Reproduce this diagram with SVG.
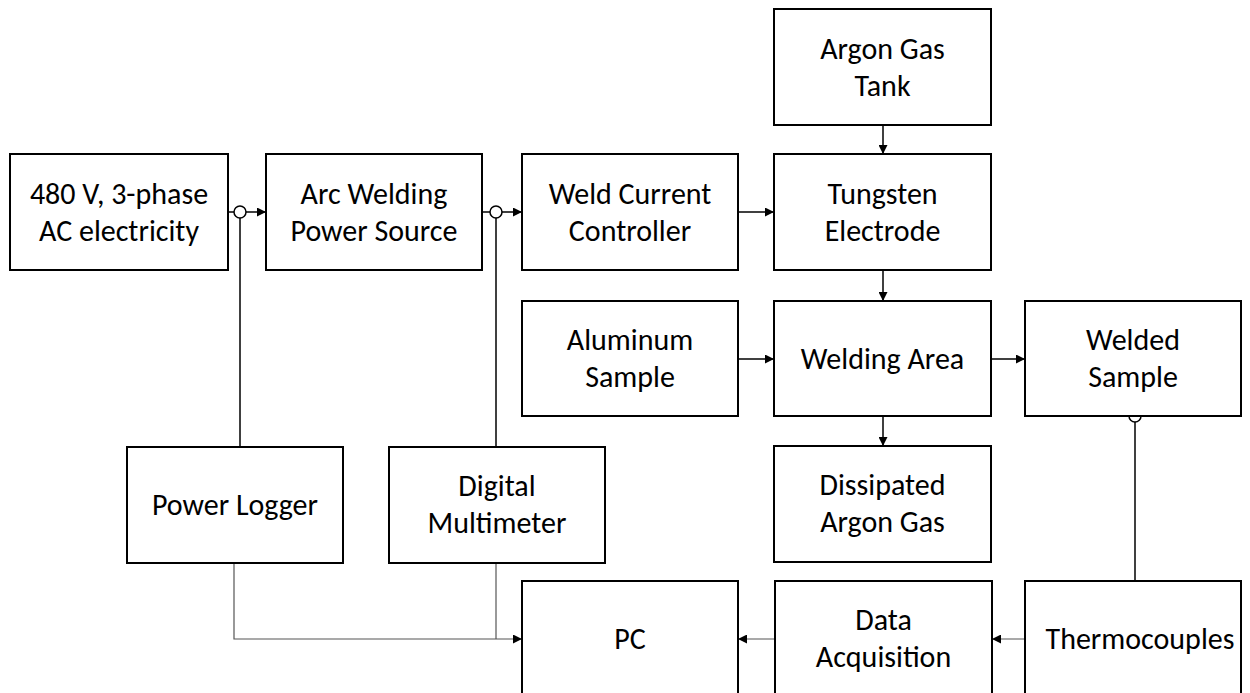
<svg xmlns="http://www.w3.org/2000/svg" width="1250" height="693" viewBox="0 0 1250 693">
<defs>
<style>
.box{fill:#fff;stroke:#000;stroke-width:2}
.t{font-family:Carlito,Calibri,Lato,sans-serif;font-size:30px;fill:#000;text-anchor:middle}
.c{fill:none;stroke:#000;stroke-width:1.5}
.g{fill:none;stroke:#555;stroke-width:1.2}
.dot{fill:#fff;stroke:#000;stroke-width:1.5}
</style>
<marker id="ah" markerUnits="userSpaceOnUse" markerWidth="9" markerHeight="9" refX="9" refY="4.5" orient="auto">
<path d="M0,0 L9,4.5 L0,9 z" fill="#000"/>
</marker>
</defs>
<rect width="1250" height="693" fill="#fff"/>
<g id="connectors">
<path class="c" d="M228,212 H266" marker-end="url(#ah)"/>
<path class="c" d="M482,212 H522" marker-end="url(#ah)"/>
<path class="c" d="M738,212 H774" marker-end="url(#ah)"/>
<path class="c" d="M883,125 V154" marker-end="url(#ah)"/>
<path class="c" d="M883,270 V301" marker-end="url(#ah)"/>
<path class="c" d="M738,359 H774" marker-end="url(#ah)"/>
<path class="c" d="M991,359 H1025" marker-end="url(#ah)"/>
<path class="c" d="M883,416 V446" marker-end="url(#ah)"/>
<path class="c" d="M240,218 V447"/>
<path class="c" d="M496,218 V447"/>
<path class="c" d="M1135,422 V581"/>
<path class="g" d="M234,563 V639 H522" marker-end="url(#ah)"/>
<path class="g" d="M496,563 V639"/>
<path class="g" d="M775,639 H738" marker-end="url(#ah)"/>
<path class="g" d="M1025,639 H992" marker-end="url(#ah)"/>
<circle class="dot" cx="240" cy="212" r="6"/>
<circle class="dot" cx="496" cy="212" r="6"/>
<circle class="dot" cx="1135" cy="416" r="6"/>
</g>
<g id="ac-electricity"><rect class="box" x="10" y="154" width="218" height="116"/><text class="t" x="119" y="204">480 V, 3-phase</text><text class="t" x="119" y="240.5">AC electricity</text></g>
<g id="arc-welding"><rect class="box" x="266" y="154" width="216" height="116"/><text class="t" x="374" y="204">Arc Welding</text><text class="t" x="374" y="240.5">Power Source</text></g>
<g id="weld-current"><rect class="box" x="522" y="154" width="216" height="116"/><text class="t" x="630" y="204">Weld Current</text><text class="t" x="630" y="240.5">Controller</text></g>
<g id="tungsten"><rect class="box" x="774" y="154" width="217" height="116"/><text class="t" x="882.5" y="204">Tungsten</text><text class="t" x="882.5" y="240.5">Electrode</text></g>
<g id="argon-tank"><rect class="box" x="774" y="9" width="217" height="116"/><text class="t" x="882.5" y="59">Argon Gas</text><text class="t" x="882.5" y="95.5">Tank</text></g>
<g id="aluminum"><rect class="box" x="522" y="301" width="216" height="115"/><text class="t" x="630" y="350">Aluminum</text><text class="t" x="630" y="386.5">Sample</text></g>
<g id="welding-area"><rect class="box" x="774" y="301" width="217" height="115"/><text class="t" x="882.5" y="369">Welding Area</text></g>
<g id="welded-sample"><rect class="box" x="1025" y="301" width="216" height="115"/><text class="t" x="1133" y="350">Welded</text><text class="t" x="1133" y="386.5">Sample</text></g>
<g id="dissipated"><rect class="box" x="774" y="446" width="217" height="116"/><text class="t" x="882.5" y="495">Dissipated</text><text class="t" x="882.5" y="531.5">Argon Gas</text></g>
<g id="power-logger"><rect class="box" x="127" y="447" width="216" height="116"/><text class="t" x="235" y="515">Power Logger</text></g>
<g id="multimeter"><rect class="box" x="389" y="447" width="216" height="116"/><text class="t" x="497" y="496">Digital</text><text class="t" x="497" y="532.5">Multimeter</text></g>
<g id="pc"><rect class="box" x="522" y="581" width="216" height="116"/><text class="t" x="630" y="649">PC</text></g>
<g id="data-acquisition"><rect class="box" x="775" y="581" width="217" height="116"/><text class="t" x="883.5" y="630">Data</text><text class="t" x="883.5" y="666.5">Acquisition</text></g>
<g id="thermocouples"><rect class="box" x="1025" y="581" width="216" height="116"/><text class="t" x="1140" y="649">Thermocouples</text></g>
</svg>
